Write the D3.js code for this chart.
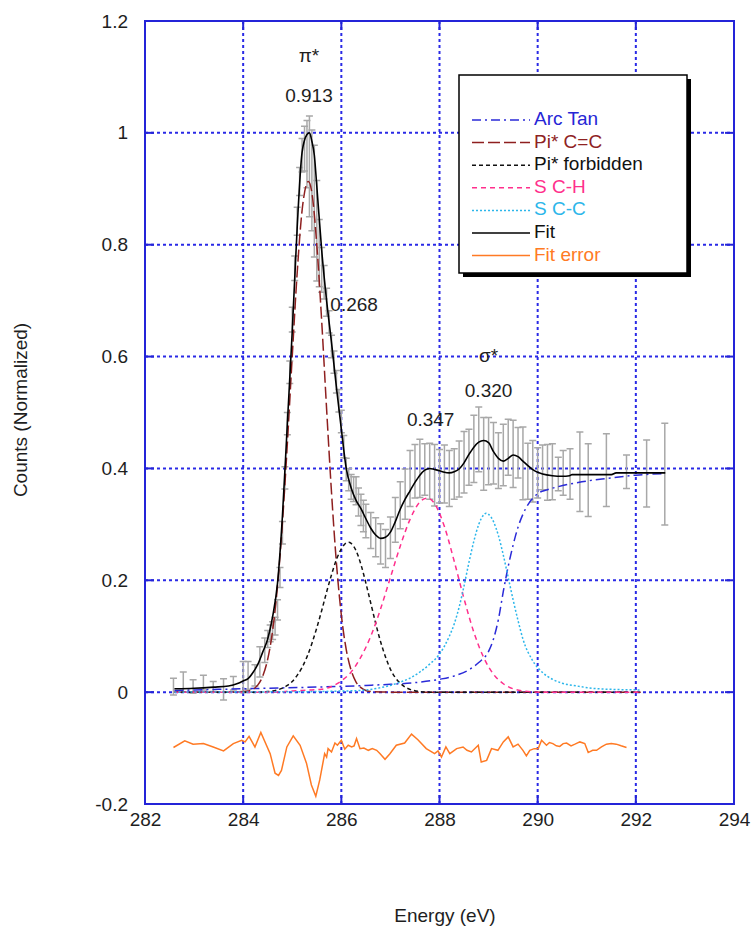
<!DOCTYPE html>
<html>
<head>
<meta charset="utf-8">
<script src="https://cdn.jsdelivr.net/npm/d3@7"></script>
<style>
  body { margin: 0; background: #fff; }
  svg { display: block; }
  text { font-family: "Liberation Sans", Arial, sans-serif; fill: #1e1e1e; }
</style>
</head>
<body>
<svg id="chart" width="752" height="936"></svg>
<script>
// Measured NEXAFS spectrum: [energy eV, normalized counts, error]
const measured = [
  [282.58,0.010,0.015],[282.78,0.018,0.018],[282.98,0.010,0.012],[283.19,0.017,0.013],
  [283.39,0.010,0.009],[283.60,0.005,0.019],[283.80,0.016,0.012],[284.00,0.027,0.028],
  [284.10,0.030,0.025],[284.24,0.030,0.019],[284.34,0.054,0.027],[284.44,0.075,0.022],
  [284.50,0.095,0.015],[284.55,0.105,0.015],[284.60,0.110,0.016],[284.65,0.118,0.016],
  [284.70,0.147,0.018],[284.75,0.205,0.018],[284.80,0.285,0.020],[284.85,0.383,0.020],
  [284.90,0.480,0.020],[284.95,0.572,0.020],[285.00,0.666,0.022],[285.05,0.758,0.022],
  [285.10,0.842,0.025],[285.15,0.913,0.025],[285.20,0.960,0.030],[285.25,0.972,0.040],
  [285.30,0.962,0.060],[285.35,0.940,0.090],[285.40,0.915,0.090],[285.45,0.878,0.100],
  [285.50,0.825,0.090],[285.55,0.785,0.060],[285.60,0.755,0.040],[285.65,0.733,0.030],
  [285.70,0.697,0.025],[285.75,0.662,0.020],[285.80,0.618,0.020],[285.85,0.590,0.020],
  [285.90,0.555,0.020],[285.95,0.521,0.020],[286.00,0.484,0.020],[286.05,0.439,0.020],
  [286.10,0.398,0.020],[286.15,0.380,0.020],[286.20,0.367,0.022],[286.25,0.363,0.022],
  [286.30,0.360,0.025],[286.35,0.340,0.025],[286.40,0.326,0.028],[286.45,0.315,0.028],
  [286.50,0.306,0.030],[286.60,0.289,0.032],[286.70,0.277,0.035],[286.80,0.265,0.036],
  [286.90,0.257,0.034],[287.00,0.276,0.037],[287.10,0.308,0.040],[287.20,0.334,0.042],
  [287.30,0.354,0.045],[287.40,0.382,0.050],[287.50,0.395,0.048],[287.60,0.400,0.052],
  [287.70,0.398,0.046],[287.80,0.395,0.050],[287.90,0.388,0.055],[288.00,0.386,0.048],
  [288.10,0.390,0.052],[288.20,0.382,0.050],[288.30,0.390,0.045],[288.40,0.399,0.050],
  [288.50,0.411,0.055],[288.60,0.420,0.050],[288.70,0.435,0.060],[288.80,0.452,0.058],
  [288.90,0.426,0.065],[289.00,0.431,0.060],[289.10,0.427,0.055],[289.20,0.414,0.050],
  [289.30,0.424,0.055],[289.40,0.438,0.050],[289.50,0.426,0.060],[289.60,0.428,0.045],
  [289.70,0.409,0.065],[289.80,0.395,0.050],[289.90,0.395,0.055],[290.00,0.392,0.045],
  [290.10,0.402,0.040],[290.20,0.393,0.050],[290.30,0.394,0.050],[290.42,0.390,0.030],
  [290.52,0.392,0.040],[290.66,0.390,0.045],[290.86,0.394,0.071],[291.03,0.379,0.065],
  [291.40,0.397,0.065],[291.81,0.394,0.030],[292.22,0.391,0.060],[292.59,0.390,0.091]
];

// Fitted components: [energy eV, normalized counts]
const arcTan = [
  [282.6,0.003],[283.5,0.005],[284.5,0.007],[285.5,0.009],[286.5,0.012],[287.0,0.014],
  [287.5,0.017],[288.0,0.023],[288.3,0.029],[288.6,0.040],[288.8,0.053],[289.0,0.073],
  [289.1,0.095],[289.2,0.130],[289.3,0.180],[289.4,0.225],[289.5,0.263],[289.6,0.295],
  [289.7,0.318],[289.8,0.335],[290.0,0.355],[290.2,0.362],[290.4,0.367],[290.9,0.376],
  [291.4,0.382],[292.0,0.388],[292.6,0.391]
];
const piCC = [
  [282.6,0],[283.6,0],[284.0,0.001],[284.1,0.002],[284.2,0.005],[284.3,0.013],[284.4,0.029],
  [284.5,0.059],[284.6,0.110],[284.7,0.190],[284.8,0.303],[284.9,0.444],[285.0,0.601],
  [285.1,0.749],[285.2,0.861],[285.33,0.913],[285.4,0.893],[285.5,0.800],[285.6,0.663],
  [285.7,0.506],[285.8,0.357],[285.9,0.231],[286.0,0.138],[286.1,0.076],[286.2,0.039],
  [286.3,0.018],[286.4,0.008],[286.5,0.003],[286.6,0.001],[287.0,0],[292.1,0]
];
const piForbidden = [
  [282.6,0],[284.3,0],[284.5,0.001],[284.7,0.004],[284.9,0.012],[285.0,0.019],[285.1,0.030],
  [285.2,0.044],[285.3,0.063],[285.4,0.087],[285.5,0.115],[285.6,0.146],[285.7,0.179],
  [285.8,0.210],[285.9,0.237],[286.0,0.256],[286.1,0.267],[286.15,0.268],[286.2,0.266],
  [286.3,0.253],[286.4,0.228],[286.5,0.195],[286.6,0.159],[286.7,0.123],[286.8,0.090],
  [286.9,0.063],[287.0,0.041],[287.1,0.026],[287.2,0.016],[287.3,0.009],[287.4,0.005],
  [287.6,0.001],[287.8,0],[292.0,0]
];
const sCH = [
  [282.6,0],[284.6,0],[285.0,0.002],[285.4,0.004],[285.6,0.005],[285.8,0.010],[286.0,0.020],
  [286.2,0.036],[286.4,0.063],[286.6,0.100],[286.8,0.149],[287.0,0.205],[287.2,0.261],
  [287.4,0.309],[287.6,0.340],[287.75,0.347],[287.9,0.337],[288.1,0.296],[288.3,0.234],
  [288.5,0.167],[288.7,0.107],[288.9,0.062],[289.1,0.032],[289.3,0.015],[289.5,0.006],
  [289.7,0.002],[290.0,0],[292.1,0]
];
const sCC = [
  [282.6,0],[285.5,0.001],[286.0,0.002],[286.4,0.003],[286.8,0.008],[287.0,0.012],[287.2,0.018],
  [287.4,0.025],[287.6,0.036],[287.8,0.050],[288.0,0.068],[288.2,0.100],[288.3,0.122],
  [288.4,0.152],[288.5,0.190],[288.6,0.232],[288.7,0.270],[288.8,0.300],[288.9,0.317],
  [288.95,0.320],[289.0,0.318],[289.1,0.305],[289.2,0.280],[289.3,0.245],[289.4,0.205],
  [289.5,0.165],[289.6,0.128],[289.7,0.095],[289.9,0.056],[290.1,0.035],[290.3,0.023],
  [290.5,0.016],[290.8,0.011],[291.1,0.007],[291.5,0.005],[292.1,0.004]
];
const fitCurve = [
  [282.6,0.006],[283.0,0.007],[283.4,0.009],[283.7,0.011],[283.9,0.016],[284.0,0.020],
  [284.1,0.024],[284.2,0.035],[284.3,0.050],[284.4,0.072],[284.5,0.095],[284.6,0.135],
  [284.7,0.195],[284.8,0.315],[284.9,0.480],[285.0,0.645],[285.1,0.830],[285.2,0.965],
  [285.3,0.997],[285.35,1.000],[285.4,0.985],[285.45,0.960],[285.5,0.905],[285.6,0.790],
  [285.7,0.700],[285.8,0.625],[285.9,0.545],[286.0,0.470],[286.1,0.400],[286.2,0.365],
  [286.3,0.343],[286.4,0.328],[286.5,0.310],[286.6,0.293],[286.7,0.281],[286.8,0.275],
  [286.9,0.277],[287.0,0.286],[287.1,0.305],[287.2,0.327],[287.3,0.345],[287.4,0.360],
  [287.5,0.375],[287.6,0.388],[287.7,0.397],[287.8,0.400],[287.9,0.398],[288.0,0.396],
  [288.1,0.393],[288.2,0.392],[288.3,0.394],[288.4,0.399],[288.5,0.410],[288.6,0.425],
  [288.7,0.438],[288.8,0.447],[288.9,0.450],[289.0,0.446],[289.1,0.430],[289.2,0.418],
  [289.3,0.413],[289.4,0.418],[289.5,0.424],[289.6,0.421],[289.7,0.413],[289.8,0.405],
  [289.9,0.398],[290.0,0.393],[290.1,0.390],[290.3,0.387],[290.5,0.386],[290.65,0.387],
  [290.7,0.389],[291.5,0.389],[291.6,0.392],[292.6,0.392]
];
// Fit residual, plotted with an offset of -0.1
const fitError = [
  [282.58,-0.099],[282.81,-0.087],[282.98,-0.093],[283.19,-0.092],[283.39,-0.098],
  [283.60,-0.105],[283.80,-0.092],[283.97,-0.086],[284.04,-0.089],[284.12,-0.079],
  [284.24,-0.098],[284.36,-0.072],[284.55,-0.110],[284.65,-0.145],[284.72,-0.149],
  [284.78,-0.140],[284.89,-0.098],[285.02,-0.078],[285.16,-0.095],[285.29,-0.127],
  [285.39,-0.166],[285.48,-0.186],[285.56,-0.157],[285.66,-0.110],[285.70,-0.116],
  [285.73,-0.101],[285.80,-0.107],[285.87,-0.091],[285.92,-0.095],[286.00,-0.086],
  [286.07,-0.102],[286.14,-0.095],[286.21,-0.098],[286.26,-0.096],[286.31,-0.083],
  [286.38,-0.101],[286.46,-0.100],[286.55,-0.104],[286.63,-0.101],[286.72,-0.104],
  [286.79,-0.110],[286.89,-0.120],[286.99,-0.110],[287.12,-0.095],[287.29,-0.091],
  [287.43,-0.075],[287.56,-0.085],[287.73,-0.101],[287.90,-0.110],[287.97,-0.105],
  [288.04,-0.116],[288.13,-0.098],[288.21,-0.110],[288.35,-0.101],[288.48,-0.098],
  [288.56,-0.104],[288.65,-0.107],[288.79,-0.095],[288.85,-0.125],[288.96,-0.122],
  [289.06,-0.101],[289.19,-0.104],[289.30,-0.089],[289.40,-0.080],[289.50,-0.098],
  [289.60,-0.093],[289.70,-0.104],[289.77,-0.114],[289.84,-0.104],[289.93,-0.101],
  [290.01,-0.101],[290.08,-0.086],[290.18,-0.095],[290.24,-0.090],[290.31,-0.092],
  [290.38,-0.096],[290.45,-0.097],[290.52,-0.092],[290.59,-0.091],[290.68,-0.096],
  [290.76,-0.093],[290.86,-0.089],[290.96,-0.092],[291.03,-0.108],[291.12,-0.104],
  [291.20,-0.104],[291.30,-0.098],[291.40,-0.093],[291.50,-0.092],[291.60,-0.093],
  [291.70,-0.096],[291.81,-0.099]
];

const xTicks = [282, 284, 286, 288, 290, 292, 294];
const yTicks = [-0.2, 0, 0.2, 0.4, 0.6, 0.8, 1, 1.2];

// Peak annotations: [energy, value, text]
const peakLabels = [
  [285.34, 1.135, "\u03c0*"],
  [285.34, 1.065, "0.913"],
  [286.26, 0.690, "0.268"],
  [289.00, 0.600, "\u03c3*"],
  [289.00, 0.537, "0.320"],
  [287.82, 0.484, "0.347"]
];

const series = [
  { name: "Arc Tan",       data: arcTan,      color: "#2a2ad8", dash: "9,4,2,4", text: "#2626d6", curve: d3.curveMonotoneX },
  { name: "Pi* C=C",       data: piCC,        color: "#8e1f1f", dash: "12,4",    text: "#8e2222", curve: d3.curveMonotoneX },
  { name: "Pi* forbidden", data: piForbidden, color: "#111111", dash: "4,3",     text: "#111111", curve: d3.curveMonotoneX },
  { name: "S C-H",         data: sCH,         color: "#ff2f8c", dash: "5,4",     text: "#ff2f8c", curve: d3.curveMonotoneX },
  { name: "S C-C",         data: sCC,         color: "#2cb6ea", dash: "2,2",     text: "#2cb6ea", curve: d3.curveMonotoneX },
  { name: "Fit",           data: fitCurve,    color: "#000000", dash: null,      text: "#111111", curve: d3.curveMonotoneX },
  { name: "Fit error",     data: fitError,    color: "#ff7a24", dash: null,      text: "#ff7a24", curve: d3.curveLinear }
];

const plotLeft = 145, plotRight = 734, plotTop = 21, plotBottom = 804;
const x = d3.scaleLinear().domain([282, 294]).range([plotLeft, plotRight]);
const y = d3.scaleLinear().domain([-0.2, 1.2]).range([plotBottom, plotTop]);

const svg = d3.select("#chart");
const frameColor = "#2424d8";
const fmt = d => String(+d.toFixed(1));

// Dotted grid
const grid = svg.append("g").attr("stroke", "#2a2ae6").attr("stroke-width", 2).attr("stroke-dasharray", "3,3");
grid.selectAll("line.v").data(xTicks.slice(1, -1)).join("line").attr("class", "v")
  .attr("x1", d => x(d)).attr("x2", d => x(d)).attr("y1", plotTop).attr("y2", plotBottom);
grid.selectAll("line.h").data(yTicks.slice(1, -1)).join("line").attr("class", "h")
  .attr("x1", plotLeft).attr("x2", plotRight).attr("y1", d => y(d)).attr("y2", d => y(d));

// Error bars
const bars = svg.append("g").attr("stroke", "#a8a8a8").attr("stroke-width", 1.5).attr("fill", "none");
bars.selectAll("path").data(measured).join("path")
  .attr("d", d => {
    const cx = x(d[0]), y1 = y(d[1] + d[2]), y2 = y(d[1] - d[2]);
    return `M${cx},${y1}V${y2}M${cx - 3.5},${y1}H${cx + 3.5}M${cx - 3.5},${y2}H${cx + 3.5}`;
  });

// Curves
const curves = svg.append("g").attr("fill", "none");
curves.selectAll("path").data(series).join("path")
  .attr("d", d => d3.line().x(p => x(p[0])).y(p => y(p[1])).curve(d.curve)(d.data))
  .attr("stroke", d => d.color)
  .attr("stroke-width", d => d.name === "Fit" ? 1.6 : 1.5)
  .attr("stroke-dasharray", d => d.dash);

// Frame
svg.append("rect").attr("x", plotLeft).attr("y", plotTop)
  .attr("width", plotRight - plotLeft).attr("height", plotBottom - plotTop)
  .attr("fill", "none").attr("stroke", frameColor).attr("stroke-width", 2);

// Axes with inward ticks
const tickLen = 9;
const xAxis = d3.axisBottom(x).tickValues(xTicks).tickSize(0).tickPadding(9).tickFormat(d3.format("d"));
const yAxis = d3.axisLeft(y).tickValues(yTicks).tickSize(0).tickPadding(17).tickFormat(fmt);
const gx = svg.append("g").attr("transform", `translate(0,${plotBottom})`).call(xAxis);
const gy = svg.append("g").attr("transform", `translate(${plotLeft},0)`).call(yAxis);
[gx, gy].forEach(g => {
  g.select(".domain").remove();
  g.selectAll("text").attr("font-size", 19).attr("font-family", "Liberation Sans, Arial, sans-serif").attr("fill", "#222");
});
const ticks = svg.append("g").attr("stroke", frameColor).attr("stroke-width", 2);
xTicks.slice(1, -1).forEach(t => {
  ticks.append("line").attr("x1", x(t)).attr("x2", x(t)).attr("y1", plotBottom).attr("y2", plotBottom - tickLen);
  ticks.append("line").attr("x1", x(t)).attr("x2", x(t)).attr("y1", plotTop).attr("y2", plotTop + tickLen);
});
yTicks.slice(1, -1).forEach(t => {
  ticks.append("line").attr("x1", plotLeft).attr("x2", plotLeft + tickLen).attr("y1", y(t)).attr("y2", y(t));
  ticks.append("line").attr("x1", plotRight).attr("x2", plotRight - tickLen).attr("y1", y(t)).attr("y2", y(t));
});

// Axis titles
svg.append("text").attr("x", 445).attr("y", 922).attr("text-anchor", "middle")
  .attr("font-size", 19).text("Energy (eV)");
svg.append("text").attr("transform", "translate(27,410) rotate(-90)").attr("text-anchor", "middle")
  .attr("font-size", 19).text("Counts (Normalized)");

// Peak annotations
svg.append("g").selectAll("text").data(peakLabels).join("text")
  .attr("x", d => x(d[0])).attr("y", d => y(d[1])).attr("text-anchor", "middle")
  .attr("dominant-baseline", "middle").attr("font-size", 19).text(d => d[2]);

// Legend
const lg = svg.append("g").attr("transform", "translate(459,75)");
const lw = 228, lh = 198;
lg.append("rect").attr("x", 4).attr("y", 4).attr("width", lw).attr("height", lh).attr("fill", "#000");
lg.append("rect").attr("width", lw).attr("height", lh).attr("fill", "#fff").attr("stroke", "#000").attr("stroke-width", 1.5);
const rows = lg.selectAll("g.row").data(series).join("g").attr("class", "row")
  .attr("transform", (d, i) => `translate(0,${45 + i * 22.6})`);
rows.append("line").attr("x1", 13).attr("x2", 71).attr("y1", 0).attr("y2", 0)
  .attr("stroke", d => d.color).attr("stroke-width", 1.5).attr("stroke-dasharray", d => d.dash);
rows.append("text").attr("x", 75).attr("y", 0).attr("dominant-baseline", "middle")
  .attr("font-size", 19).style("fill", d => d.text).text(d => d.name);
</script>
</body>
</html>
